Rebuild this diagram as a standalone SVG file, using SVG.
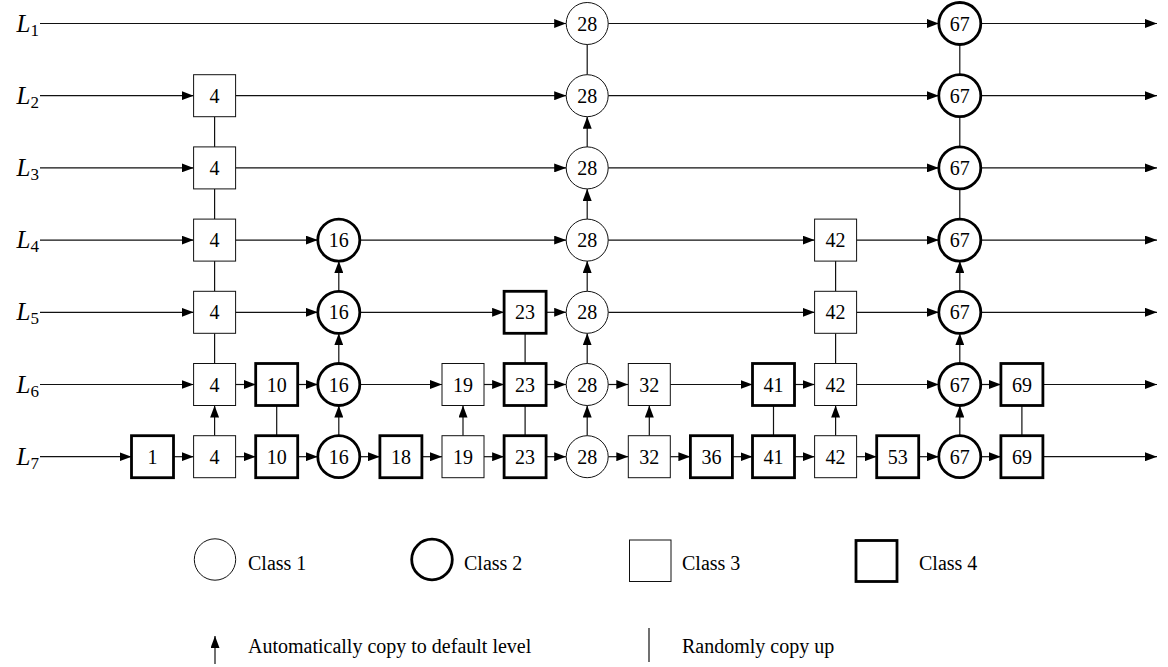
<svg xmlns="http://www.w3.org/2000/svg" width="1168" height="667" viewBox="0 0 1168 667">
  <style>
    text { font-family: "Liberation Serif", "DejaVu Serif", serif; fill: #000; }
    .num { font-size: 20px; text-anchor: middle; }
    .lab { font-size: 25px; font-style: italic; text-anchor: end; }
    .sub { font-size: 17px; font-style: normal; }
    .leg { font-size: 20px; }
    .c1 circle { fill: #fff; stroke: #111; stroke-width: 1; }
    .c2 circle { fill: #fff; stroke: #000; stroke-width: 2.8; }
    .c3 rect { fill: #fff; stroke: #111; stroke-width: 1; }
    .c4 rect { fill: #fff; stroke: #000; stroke-width: 2.8; }
    #connectors path { fill: none; stroke: #111; stroke-width: 1.2; }
    #connectors path.a { marker-end: url(#tip); }
  </style>
  <defs>
    <marker id="tip" markerUnits="userSpaceOnUse" markerWidth="12" markerHeight="9" refX="12" refY="4.5" orient="auto">
      <path d="M0,0 L12,4.5 L0,9 z" fill="#000"/>
    </marker>
  </defs>
  <rect width="1168" height="667" fill="#fff"/>

  <!-- level labels -->
  <g id="labels">
    <text class="lab" x="39" y="31.5">L<tspan class="sub" dy="4">1</tspan></text>
    <text class="lab" x="39" y="103.7">L<tspan class="sub" dy="4">2</tspan></text>
    <text class="lab" x="39" y="175.9">L<tspan class="sub" dy="4">3</tspan></text>
    <text class="lab" x="39" y="248.1">L<tspan class="sub" dy="4">4</tspan></text>
    <text class="lab" x="39" y="320.3">L<tspan class="sub" dy="4">5</tspan></text>
    <text class="lab" x="39" y="392.5">L<tspan class="sub" dy="4">6</tspan></text>
    <text class="lab" x="39" y="464.7">L<tspan class="sub" dy="4">7</tspan></text>
  </g>

  <!-- connectors -->
  <g id="connectors">
    <!-- L1 -->
    <path class="a" d="M40,23.5 H566.2"/>
    <path class="a" d="M608.2,23.5 H938.8"/>
    <path class="a" d="M980.8,23.5 H1157"/>
    <!-- L2 -->
    <path class="a" d="M40,95.7 H193.6"/>
    <path class="a" d="M235.6,95.7 H566.2"/>
    <path class="a" d="M608.2,95.7 H938.8"/>
    <path class="a" d="M980.8,95.7 H1157"/>
    <!-- L3 -->
    <path class="a" d="M40,167.9 H193.6"/>
    <path class="a" d="M235.6,167.9 H566.2"/>
    <path class="a" d="M608.2,167.9 H938.8"/>
    <path class="a" d="M980.8,167.9 H1157"/>
    <!-- L4 -->
    <path class="a" d="M40,240.1 H193.6"/>
    <path class="a" d="M235.6,240.1 H317.8"/>
    <path class="a" d="M359.8,240.1 H566.2"/>
    <path class="a" d="M608.2,240.1 H814.6"/>
    <path class="a" d="M856.6,240.1 H938.8"/>
    <path class="a" d="M980.8,240.1 H1157"/>
    <!-- L5 -->
    <path class="a" d="M40,312.3 H193.6"/>
    <path class="a" d="M235.6,312.3 H317.8"/>
    <path class="a" d="M359.8,312.3 H504.1"/>
    <path class="a" d="M546.1,312.3 H566.2"/>
    <path class="a" d="M608.2,312.3 H814.6"/>
    <path class="a" d="M856.6,312.3 H938.8"/>
    <path class="a" d="M980.8,312.3 H1157"/>
    <!-- L6 -->
    <path class="a" d="M40,384.5 H193.6"/>
    <path class="a" d="M235.6,384.5 H255.7"/>
    <path class="a" d="M297.7,384.5 H317.8"/>
    <path class="a" d="M359.8,384.5 H442"/>
    <path class="a" d="M484,384.5 H504.1"/>
    <path class="a" d="M546.1,384.5 H566.2"/>
    <path class="a" d="M608.2,384.5 H628.3"/>
    <path class="a" d="M670.3,384.5 H752.5"/>
    <path class="a" d="M794.5,384.5 H814.6"/>
    <path class="a" d="M856.6,384.5 H938.8"/>
    <path class="a" d="M980.8,384.5 H1000.9"/>
    <path class="a" d="M1042.9,384.5 H1157"/>
    <!-- L7 -->
    <path class="a" d="M40,456.7 H131.5"/>
    <path class="a" d="M173.5,456.7 H193.6"/>
    <path class="a" d="M235.6,456.7 H255.7"/>
    <path class="a" d="M297.7,456.7 H317.8"/>
    <path class="a" d="M359.8,456.7 H379.9"/>
    <path class="a" d="M421.9,456.7 H442"/>
    <path class="a" d="M484,456.7 H504.1"/>
    <path class="a" d="M546.1,456.7 H566.2"/>
    <path class="a" d="M608.2,456.7 H628.3"/>
    <path class="a" d="M670.3,456.7 H690.4"/>
    <path class="a" d="M732.4,456.7 H752.5"/>
    <path class="a" d="M794.5,456.7 H814.6"/>
    <path class="a" d="M856.6,456.7 H876.7"/>
    <path class="a" d="M918.7,456.7 H938.8"/>
    <path class="a" d="M980.8,456.7 H1000.9"/>
    <path class="a" d="M1042.9,456.7 H1157"/>

    <!-- key 4 -->
    <path d="M214.6,116.7 V146.9"/>
    <path d="M214.6,188.9 V219.1"/>
    <path d="M214.6,261.1 V291.3"/>
    <path d="M214.6,333.3 V363.5"/>
    <path class="a" d="M214.6,435.7 V405.5"/>
    <!-- key 10 -->
    <path d="M276.7,405.5 V435.7"/>
    <!-- key 16 -->
    <path class="a" d="M338.8,435.7 V405.5"/>
    <path class="a" d="M338.8,363.5 V333.3"/>
    <path class="a" d="M338.8,291.3 V261.1"/>
    <!-- key 19 -->
    <path class="a" d="M463,435.7 V405.5"/>
    <!-- key 23 -->
    <path d="M525.1,405.5 V435.7"/>
    <path d="M525.1,333.3 V363.5"/>
    <!-- key 28 -->
    <path class="a" d="M587.2,435.7 V405.5"/>
    <path class="a" d="M587.2,363.5 V333.3"/>
    <path class="a" d="M587.2,291.3 V261.1"/>
    <path class="a" d="M587.2,219.1 V188.9"/>
    <path class="a" d="M587.2,146.9 V116.7"/>
    <path d="M587.2,44.5 V74.7"/>
    <!-- key 32 -->
    <path class="a" d="M649.3,435.7 V405.5"/>
    <!-- key 41 -->
    <path d="M773.5,405.5 V435.7"/>
    <!-- key 42 -->
    <path class="a" d="M835.6,435.7 V405.5"/>
    <path d="M835.6,333.3 V363.5"/>
    <path d="M835.6,261.1 V291.3"/>
    <!-- key 67 -->
    <path class="a" d="M959.8,435.7 V405.5"/>
    <path class="a" d="M959.8,363.5 V333.3"/>
    <path class="a" d="M959.8,291.3 V261.1"/>
    <path d="M959.8,188.9 V219.1"/>
    <path d="M959.8,116.7 V146.9"/>
    <path d="M959.8,44.5 V74.7"/>
    <!-- key 69 -->
    <path d="M1021.9,405.5 V435.7"/>
  </g>

  <!-- level 1 -->
  <g id="n1-28" class="c1"><circle cx="587.2" cy="23.5" r="21"/><text class="num" x="587.2" y="30.5">28</text></g>
  <g id="n1-67" class="c2"><circle cx="959.8" cy="23.5" r="21"/><text class="num" x="959.8" y="30.5">67</text></g>

  <!-- level 2 -->
  <g id="n2-4" class="c3"><rect x="193.6" y="74.7" width="42" height="42"/><text class="num" x="214.6" y="102.7">4</text></g>
  <g id="n2-28" class="c1"><circle cx="587.2" cy="95.7" r="21"/><text class="num" x="587.2" y="102.7">28</text></g>
  <g id="n2-67" class="c2"><circle cx="959.8" cy="95.7" r="21"/><text class="num" x="959.8" y="102.7">67</text></g>

  <!-- level 3 -->
  <g id="n3-4" class="c3"><rect x="193.6" y="146.9" width="42" height="42"/><text class="num" x="214.6" y="174.9">4</text></g>
  <g id="n3-28" class="c1"><circle cx="587.2" cy="167.9" r="21"/><text class="num" x="587.2" y="174.9">28</text></g>
  <g id="n3-67" class="c2"><circle cx="959.8" cy="167.9" r="21"/><text class="num" x="959.8" y="174.9">67</text></g>

  <!-- level 4 -->
  <g id="n4-4" class="c3"><rect x="193.6" y="219.1" width="42" height="42"/><text class="num" x="214.6" y="247.1">4</text></g>
  <g id="n4-16" class="c2"><circle cx="338.8" cy="240.1" r="21"/><text class="num" x="338.8" y="247.1">16</text></g>
  <g id="n4-28" class="c1"><circle cx="587.2" cy="240.1" r="21"/><text class="num" x="587.2" y="247.1">28</text></g>
  <g id="n4-42" class="c3"><rect x="814.6" y="219.1" width="42" height="42"/><text class="num" x="835.6" y="247.1">42</text></g>
  <g id="n4-67" class="c2"><circle cx="959.8" cy="240.1" r="21"/><text class="num" x="959.8" y="247.1">67</text></g>

  <!-- level 5 -->
  <g id="n5-4" class="c3"><rect x="193.6" y="291.3" width="42" height="42"/><text class="num" x="214.6" y="319.3">4</text></g>
  <g id="n5-16" class="c2"><circle cx="338.8" cy="312.3" r="21"/><text class="num" x="338.8" y="319.3">16</text></g>
  <g id="n5-23" class="c4"><rect x="504.1" y="291.3" width="42" height="42"/><text class="num" x="525.1" y="319.3">23</text></g>
  <g id="n5-28" class="c1"><circle cx="587.2" cy="312.3" r="21"/><text class="num" x="587.2" y="319.3">28</text></g>
  <g id="n5-42" class="c3"><rect x="814.6" y="291.3" width="42" height="42"/><text class="num" x="835.6" y="319.3">42</text></g>
  <g id="n5-67" class="c2"><circle cx="959.8" cy="312.3" r="21"/><text class="num" x="959.8" y="319.3">67</text></g>

  <!-- level 6 -->
  <g id="n6-4" class="c3"><rect x="193.6" y="363.5" width="42" height="42"/><text class="num" x="214.6" y="391.5">4</text></g>
  <g id="n6-10" class="c4"><rect x="255.7" y="363.5" width="42" height="42"/><text class="num" x="276.7" y="391.5">10</text></g>
  <g id="n6-16" class="c2"><circle cx="338.8" cy="384.5" r="21"/><text class="num" x="338.8" y="391.5">16</text></g>
  <g id="n6-19" class="c3"><rect x="442" y="363.5" width="42" height="42"/><text class="num" x="463" y="391.5">19</text></g>
  <g id="n6-23" class="c4"><rect x="504.1" y="363.5" width="42" height="42"/><text class="num" x="525.1" y="391.5">23</text></g>
  <g id="n6-28" class="c1"><circle cx="587.2" cy="384.5" r="21"/><text class="num" x="587.2" y="391.5">28</text></g>
  <g id="n6-32" class="c3"><rect x="628.3" y="363.5" width="42" height="42"/><text class="num" x="649.3" y="391.5">32</text></g>
  <g id="n6-41" class="c4"><rect x="752.5" y="363.5" width="42" height="42"/><text class="num" x="773.5" y="391.5">41</text></g>
  <g id="n6-42" class="c3"><rect x="814.6" y="363.5" width="42" height="42"/><text class="num" x="835.6" y="391.5">42</text></g>
  <g id="n6-67" class="c2"><circle cx="959.8" cy="384.5" r="21"/><text class="num" x="959.8" y="391.5">67</text></g>
  <g id="n6-69" class="c4"><rect x="1000.9" y="363.5" width="42" height="42"/><text class="num" x="1021.9" y="391.5">69</text></g>

  <!-- level 7 -->
  <g id="n7-1" class="c4"><rect x="131.5" y="435.7" width="42" height="42"/><text class="num" x="152.5" y="463.7">1</text></g>
  <g id="n7-4" class="c3"><rect x="193.6" y="435.7" width="42" height="42"/><text class="num" x="214.6" y="463.7">4</text></g>
  <g id="n7-10" class="c4"><rect x="255.7" y="435.7" width="42" height="42"/><text class="num" x="276.7" y="463.7">10</text></g>
  <g id="n7-16" class="c2"><circle cx="338.8" cy="456.7" r="21"/><text class="num" x="338.8" y="463.7">16</text></g>
  <g id="n7-18" class="c4"><rect x="379.9" y="435.7" width="42" height="42"/><text class="num" x="400.9" y="463.7">18</text></g>
  <g id="n7-19" class="c3"><rect x="442" y="435.7" width="42" height="42"/><text class="num" x="463" y="463.7">19</text></g>
  <g id="n7-23" class="c4"><rect x="504.1" y="435.7" width="42" height="42"/><text class="num" x="525.1" y="463.7">23</text></g>
  <g id="n7-28" class="c1"><circle cx="587.2" cy="456.7" r="21"/><text class="num" x="587.2" y="463.7">28</text></g>
  <g id="n7-32" class="c3"><rect x="628.3" y="435.7" width="42" height="42"/><text class="num" x="649.3" y="463.7">32</text></g>
  <g id="n7-36" class="c4"><rect x="690.4" y="435.7" width="42" height="42"/><text class="num" x="711.4" y="463.7">36</text></g>
  <g id="n7-41" class="c4"><rect x="752.5" y="435.7" width="42" height="42"/><text class="num" x="773.5" y="463.7">41</text></g>
  <g id="n7-42" class="c3"><rect x="814.6" y="435.7" width="42" height="42"/><text class="num" x="835.6" y="463.7">42</text></g>
  <g id="n7-53" class="c4"><rect x="876.7" y="435.7" width="42" height="42"/><text class="num" x="897.7" y="463.7">53</text></g>
  <g id="n7-67" class="c2"><circle cx="959.8" cy="456.7" r="21"/><text class="num" x="959.8" y="463.7">67</text></g>
  <g id="n7-69" class="c4"><rect x="1000.9" y="435.7" width="42" height="42"/><text class="num" x="1021.9" y="463.7">69</text></g>

  <!-- legend -->
  <g id="legend">
    <g class="c1"><circle cx="215" cy="559.5" r="20.7"/></g>
    <text class="leg" x="248" y="570">Class 1</text>
    <g class="c2"><circle cx="432" cy="559.5" r="20.3"/></g>
    <text class="leg" x="464" y="570">Class 2</text>
    <g class="c3"><rect x="629.5" y="540" width="41.5" height="41.5"/></g>
    <text class="leg" x="682" y="570">Class 3</text>
    <g class="c4"><rect x="856" y="540.5" width="41" height="41"/></g>
    <text class="leg" x="919" y="570">Class 4</text>
    <path d="M215,664 V636" stroke="#111" stroke-width="1.2" marker-end="url(#tip)"/>
    <text class="leg" x="248" y="653">Automatically copy to default level</text>
    <path d="M649,628 V662" stroke="#111" stroke-width="1.2"/>
    <text class="leg" x="682" y="653">Randomly copy up</text>
  </g>
</svg>
